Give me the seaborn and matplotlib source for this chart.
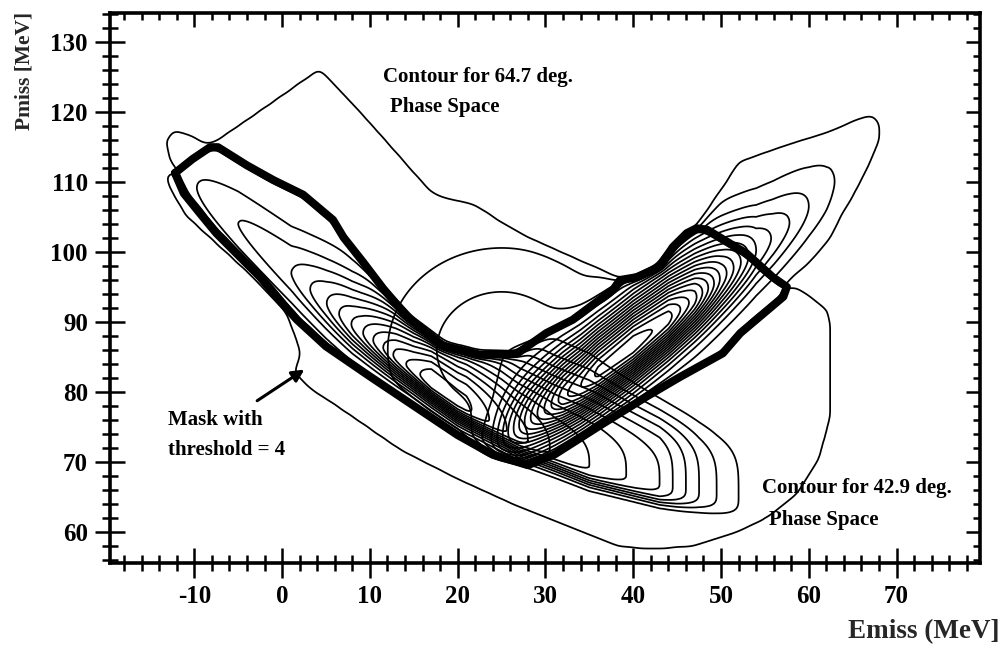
import numpy as np
import pandas as pd
import matplotlib
matplotlib.use("Agg")
import matplotlib.pyplot as plt
from matplotlib.path import Path
from matplotlib.ticker import MultipleLocator
import seaborn as sns

# ---------------- data (Emiss, Pmiss in MeV) ----------------
# mask outline (threshold = 4), clockwise from the left tip
mask_emiss = [-12.2, -10.2, -8.2, -7.3, -4.0, -1.0, 2.4, 5.8, 7.0, 9.2, 11.5, 14.2, 18.3, 21.0,
              22.5, 26.7, 30.1, 33.1, 37.7, 38.5, 40.4, 43.0, 44.5, 46.1, 47.2, 48.4, 52.9, 55.9,
              57.5, 57.1, 52.2, 50.2, 45.3, 41.5, 36.0, 31.0, 28.0, 24.0, 20.0, 15.0, 10.0, 5.0,
              1.7, -0.3, -2.5, -5.2, -7.5, -9.4, -11.2]
mask_pmiss = [111.3, 113.3, 115.0, 115.0, 112.4, 110.3, 108.2, 104.6, 102.1, 98.6, 94.8, 90.8, 86.6, 85.8,
              85.3, 85.4, 88.4, 90.3, 94.6, 96.0, 96.4, 97.9, 100.7, 102.7, 103.4, 103.2, 99.8, 96.4,
              95.0, 93.6, 88.4, 85.5, 82.1, 79.3, 75.0, 71.0, 69.5, 71.0, 73.8, 78.0, 82.2, 86.5,
              90.3, 93.1, 96.4, 99.8, 102.7, 105.6, 108.4]

# 42.9 deg phase-space edge, from the mask's right corner round the bottom to the left tip
edge429_emiss = [58.6, 62.7, 63.0, 62.8, 61.5, 59.0, 56.0, 52.0, 47.0, 42.0, 38.0, 33.0, 27.0, 20.0,
                 13.4, 9.0, 5.8, 3.0, 0.9, 1.7, 0.1, -3.7, -7.5, -11.3, -13.2, -13.6]
edge429_pmiss = [95.6, 91.7, 84.0, 76.0, 70.0, 65.0, 62.0, 59.5, 57.5, 57.0, 57.5, 60.0, 63.0, 67.0,
                 71.2, 75.0, 77.8, 80.0, 82.7, 85.5, 91.3, 96.4, 100.7, 105.0, 109.3, 111.7]

# 64.7 deg phase-space edge: right lobe (mask top corner -> tip -> right corner)
edge647r_emiss = [50.6, 51.8, 57.0, 62.0, 65.5, 67.3, 68.4, 68.4, 67.2, 65.8, 64.0, 62.7, 60.5, 58.2]
edge647r_pmiss = [110.7, 113.2, 115.5, 117.4, 119.3, 120.1, 118.4, 116.0, 112.5, 108.9, 105.0, 101.7, 98.5, 96.0]
# 64.7 deg phase-space edge: upper lobe (mask left tip -> peak -> mask upper edge)
edge647u_emiss = [-13.2, -13.7, -12.5, -10.0, -8.4, -4.0, 0.0, 4.3, 6.5, 8.9, 13.0, 17.2, 18.3, 22.1,
                  25.0, 28.2, 33.9, 36.5]
edge647u_pmiss = [113.0, 116.0, 118.0, 117.0, 115.7, 119.5, 123.0, 126.8, 124.0, 120.8, 115.0, 108.9, 108.2, 107.0,
                  104.5, 102.1, 98.9, 97.5]

# 42.9 deg ridge: centre line and profile (height above the plateau, widths below / above, edge sharpness)
ridge429_line_e = [-14, -10, -5, 1, 8, 14, 20, 27, 35, 43, 50, 58]
ridge429_line_p = [112.5, 109.5, 104, 97, 89.5, 84, 78.5, 73.5, 69.5, 67, 65.5, 64]
ridge429_e = [-14, -9.7, -5, 1.1, 3.2, 5.1, 9, 13, 17, 21, 26, 31, 36, 40, 43, 44.5, 46, 47.5, 49.5, 52, 55]
ridge429_h = [0, 0.7, 1.7, 2.7, 3.7, 4.7, 7.5, 11, 13.5, 13, 10.5, 8.5, 7.5, 6.5, 5.7, 4.7, 3.7, 2.7, 1.7, 0.7, 0]
ridge429_we = [-14, -5, 5, 15, 25, 35, 45, 55]
ridge429_wlo = [2.0, 2.5, 2.6, 2.0, 1.9, 2.2, 2.6, 2.6]
ridge429_whi = [2.5, 3.5, 4.5, 5.0, 8.0, 9.5, 8.0, 6.0]
ridge429_q = [2.0, 2.0, 2.0, 2.0, 2.2, 3.0, 4.0, 4.0]

# 64.7 deg ridge
ridge647_line_e = [18, 26, 34, 40, 48, 56, 62, 68, 72]
ridge647_line_p = [67, 74, 80.8, 86.6, 94.3, 102.2, 108.7, 117.5, 122]
ridge647_e = [20, 24, 28, 32, 36, 40, 44, 47, 50, 52, 54, 55.7, 57.8, 60, 62.9, 66, 70]
ridge647_h = [0, 3, 9, 14, 17, 18, 17, 14, 9.5, 7, 4.7, 3.7, 2.7, 1.7, 0.7, 0.2, 0]
ridge647_we = [20, 30, 40, 50, 60, 70]
ridge647_wlo = [3.0, 3.2, 3.4, 3.4, 3.2, 3.0]
ridge647_whi = [4.0, 4.5, 4.8, 4.8, 4.2, 3.5]
ridge647_q = [2.0, 2.0, 2.0, 2.0, 2.0, 2.0]

# 64.7 deg broad hump over the crossing of the two arms
hump647_e, hump647_p = 25.0, 86.0
hump647_we, hump647_wp = 8.0, 9.0
hump647_h = 2.6

plateau = 1.3
levels = np.arange(1, 21)

# ---------------- fields on a fine grid ----------------
step = 0.25
E = np.arange(-21, 81.01, step)
P = np.arange(53, 137.01, step)
EE, PP = np.meshgrid(E, P)
grid_pts = np.column_stack([EE.ravel(), PP.ravel()])


def soft_region(poly_e, poly_p, blur=0.6):
    inside = Path(np.column_stack([poly_e, poly_p])).contains_points(grid_pts)
    m = inside.reshape(EE.shape).astype(float)
    n = int(np.ceil(3 * blur / step))
    k = np.exp(-0.5 * (np.arange(-n, n + 1) * step / blur) ** 2)
    k /= k.sum()
    m = np.apply_along_axis(np.convolve, 1, m, k, mode="same")
    m = np.apply_along_axis(np.convolve, 0, m, k, mode="same")
    return m


def ridge(line_e, line_p, ke, h, we, wlo, whi, q):
    centre = np.interp(EE, line_e, line_p)
    height = np.interp(EE, ke, h, left=0, right=0)
    off = PP - centre
    w = np.where(off < 0, np.interp(EE, we, wlo), np.interp(EE, we, whi))
    expo = np.interp(EE, we, q)
    return height * np.exp(-0.5 * np.abs(off / w) ** expo)


me, mp = list(mask_emiss), list(mask_pmiss)
# 42.9 deg region: mask upper edges (left tip .. right corner) + lower edge
poly429_e = me[0:29] + edge429_emiss
poly429_p = mp[0:29] + edge429_pmiss
# 64.7 deg region: right lobe, mask lower edges, upper lobe, mask upper edge of right arm
poly647_e = me[24:25] + edge647r_emiss + me[28:] + me[0:1] + edge647u_emiss + me[19:25]
poly647_p = mp[24:25] + edge647r_pmiss + mp[28:] + mp[0:1] + edge647u_pmiss + mp[19:25]

hump = hump647_h * np.exp(-0.5 * (((EE - hump647_e) / hump647_we) ** 2 + ((PP - hump647_p) / hump647_wp) ** 2))

f429 = soft_region(poly429_e, poly429_p) * (plateau + ridge(
    ridge429_line_e, ridge429_line_p, ridge429_e, ridge429_h, ridge429_we, ridge429_wlo, ridge429_whi, ridge429_q))
f647 = soft_region(poly647_e, poly647_p) * (plateau + hump + ridge(
    ridge647_line_e, ridge647_line_p, ridge647_e, ridge647_h, ridge647_we, ridge647_wlo, ridge647_whi, ridge647_q))

# ---------------- figure ----------------
sns.set_theme(style="white")
plt.rcParams["font.family"] = ["Liberation Serif", "DejaVu Serif"]
plt.rcParams["font.weight"] = "bold"
plt.rcParams["axes.unicode_minus"] = False

fig = plt.figure(figsize=(10.03, 6.48), dpi=100)
ax = fig.add_axes([110 / 1003, 1 - 563 / 648, 870 / 1003, 550 / 648])

ax.contour(EE, PP, f429, levels=levels, colors="black", linewidths=1.25)
ax.contour(EE, PP, f647, levels=levels, colors="black", linewidths=1.25)

mask_df = pd.DataFrame({"Emiss": me + me[:1], "Pmiss": mp + mp[:1]})
sns.lineplot(data=mask_df, x="Emiss", y="Pmiss", sort=False, estimator=None,
             color="black", lw=5.8, ax=ax, zorder=5)

ax.set_xlim(-19.6, 79.5)
ax.set_ylim(55.5, 134.2)
ax.set_xlabel("")
ax.set_ylabel("")
for s in ax.spines.values():
    s.set_linewidth(2.6)
    s.set_color("black")

for axis in (ax.xaxis, ax.yaxis):
    axis.set_major_locator(MultipleLocator(10))
    axis.set_minor_locator(MultipleLocator(2))
ax.tick_params(which="both", direction="inout", bottom=True, left=True, top=False, right=False,
               width=1.8, color="black", labelsize=18, labelcolor="black")
ax.tick_params(which="major", length=22, pad=5)
ax.tick_params(which="minor", length=11)

top = ax.secondary_xaxis("top")
right = ax.secondary_yaxis("right")
for sec, axis in ((top, top.xaxis), (right, right.yaxis)):
    axis.set_major_locator(MultipleLocator(10))
    axis.set_minor_locator(MultipleLocator(2))
    sec.tick_params(which="both", direction="in", width=1.8, color="black",
                    labeltop=False, labelright=False, labelbottom=False, labelleft=False)
    sec.tick_params(which="major", length=10)
    sec.tick_params(which="minor", length=5)

txt = dict(fontsize=15, fontweight="bold", color="black", family=["Liberation Serif"])
ax.text(11.5, 125.0, "Contour for 64.7 deg.", va="center", ha="left", **txt)
ax.text(12.3, 120.7, "Phase Space", va="center", ha="left", **txt)
ax.text(54.7, 66.2, "Contour for 42.9 deg.", va="center", ha="left", **txt)
ax.text(55.5, 61.7, "Phase Space", va="center", ha="left", **txt)
ax.text(-13.0, 76.0, "Mask with", va="center", ha="left", **txt)
ax.text(-13.0, 71.7, "threshold = 4", va="center", ha="left", **txt)
ax.annotate("", xy=(2.8, 83.4), xytext=(-3.1, 78.5),
            arrowprops=dict(arrowstyle="-|>", lw=2.2, color="black", mutation_scale=18))

fig.text(25 / 1003, 1 - 71 / 648, "Pmiss [MeV]", rotation=90, ha="center", va="center",
         fontsize=15.5, fontweight="bold")
fig.text(1000 / 1003, 1 - 632 / 648, "Emiss (MeV]", ha="right", va="center",
         fontsize=19.5, fontweight="bold")

fig.savefig("out.png", dpi=100)
